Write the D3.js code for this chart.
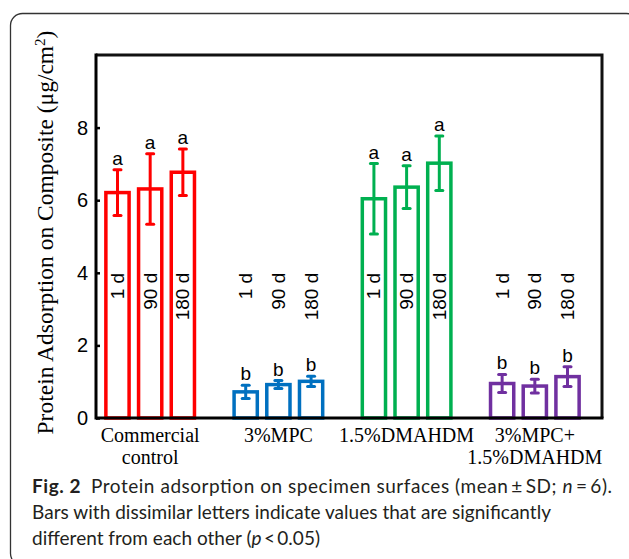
<!DOCTYPE html>
<html lang="en">
<head>
<meta charset="UTF-8">
<title>Protein adsorption</title>
<script src="https://cdnjs.cloudflare.com/ajax/libs/d3/7.8.5/d3.min.js"></script>
<style>
  body { margin: 0; background: #fff; }
</style>
</head>
<body>
<svg id="chart" width="629" height="559"></svg>
<script>
// groups and ageing times
const groups = ["Commercial control", "3%MPC", "1.5%DMAHDM", "3%MPC+ 1.5%DMAHDM"];
const groupLines = [["Commercial", "control"], ["3%MPC"], ["1.5%DMAHDM"], ["3%MPC+", "1.5%DMAHDM"]];
const days = ["1 d", "90 d", "180 d"];
const colors = ["#ff0000", "#0070c0", "#00b050", "#7030a0"];

// mean and SD per group, one value per ageing time
const means = [
  [6.21, 6.31, 6.77],
  [0.72, 0.92, 1.01],
  [6.04, 6.36, 7.02],
  [0.95, 0.88, 1.14]
];
const sds = [
  [0.63, 0.97, 0.64],
  [0.18, 0.11, 0.14],
  [0.97, 0.59, 0.75],
  [0.25, 0.19, 0.27]
];
const letters = [
  ["a", "a", "a"],
  ["b", "b", "b"],
  ["a", "a", "a"],
  ["b", "b", "b"]
];
const yTicks = [0, 2, 4, 6, 8];

const svg = d3.select("#chart");

// outer rounded frame
svg.append("rect")
  .attr("x", 10.5).attr("y", 13.5)
  .attr("width", 628).attr("height", 552)
  .attr("rx", 12)
  .attr("fill", "none")
  .attr("stroke", "#333")
  .attr("stroke-width", 1.3);

const pLeft = 96, pRight = 602, pTop = 55, pBottom = 418;

const y = d3.scaleLinear().domain([0, 10]).range([pBottom, pTop]);
const x0 = d3.scaleBand().domain(groups).range([86, 599])
  .paddingInner(0.309).paddingOuter(0.155);
const x1 = d3.scaleBand().domain(days).range([0, x0.bandwidth()])
  .paddingInner(0.29).paddingOuter(0);

const sans = "'Liberation Sans', Arial, sans-serif";
const serif = "'Liberation Serif', 'Times New Roman', serif";

// bars
groups.forEach((g, gi) => {
  const gEl = svg.append("g").attr("transform", `translate(${x0(g)},0)`);
  days.forEach((d, di) => {
    const m = means[gi][di], s = sds[gi][di];
    const cx = x1(d) + x1.bandwidth() / 2;
    gEl.append("rect")
      .attr("x", x1(d))
      .attr("y", y(m))
      .attr("width", x1.bandwidth())
      .attr("height", y(0) - y(m))
      .attr("fill", "none")
      .attr("stroke", colors[gi])
      .attr("stroke-width", 3.5);
    // error bar
    gEl.append("line")
      .attr("x1", cx).attr("x2", cx)
      .attr("y1", y(m + s)).attr("y2", y(m - s))
      .attr("stroke", colors[gi]).attr("stroke-width", 3);
    [m + s, m - s].forEach(v => {
      gEl.append("line")
        .attr("x1", cx - 3.5).attr("x2", cx + 3.5)
        .attr("y1", y(v)).attr("y2", y(v))
        .attr("stroke", colors[gi]).attr("stroke-width", 3)
        .attr("stroke-linecap", "round");
    });
    // significance letter
    gEl.append("text")
      .attr("x", cx).attr("y", y(m + s) - 5)
      .attr("text-anchor", "middle")
      .attr("font-family", sans).attr("font-size", 19)
      .text(letters[gi][di]);
    // day label, reading bottom to top, tops aligned
    gEl.append("text")
      .attr("transform", `translate(${cx},${y(4)}) rotate(-90)`)
      .attr("text-anchor", "end")
      .attr("dominant-baseline", "central")
      .attr("font-family", sans).attr("font-size", 19)
      .text(d);
  });
});

// plot box
svg.append("path")
  .attr("d", `M${pLeft},${pTop}H${pRight}V${pBottom}`)
  .attr("fill", "none").attr("stroke", "#111").attr("stroke-width", 3);

// axes
const yAxis = svg.append("g").attr("transform", `translate(${pLeft},0)`)
  .call(d3.axisRight(y).tickValues(yTicks).tickSize(4).tickFormat(d3.format("d")));
yAxis.select(".domain").remove();
yAxis.selectAll(".tick line").attr("stroke", "#000").attr("stroke-width", 2.5);
yAxis.selectAll(".tick text")
  .attr("x", -8).attr("text-anchor", "end")
  .attr("font-family", sans).attr("font-size", 20).attr("fill", "#000");

svg.append("line").attr("x1", pLeft).attr("x2", pLeft).attr("y1", pTop - 1.5).attr("y2", pBottom + 1.5)
  .attr("stroke", "#000").attr("stroke-width", 3);
svg.append("line").attr("x1", pLeft).attr("x2", pRight + 1.5).attr("y1", pBottom).attr("y2", pBottom)
  .attr("stroke", "#000").attr("stroke-width", 3);

// category labels
groups.forEach((g, gi) => {
  const t = svg.append("text")
    .attr("x", x0(g) + x0.bandwidth() / 2)
    .attr("y", 442)
    .attr("text-anchor", "middle")
    .attr("font-family", serif).attr("font-size", 20);
  groupLines[gi].forEach((ln, li) => {
    t.append("tspan")
      .attr("x", x0(g) + x0.bandwidth() / 2)
      .attr("dy", li === 0 ? 0 : 22)
      .text(ln);
  });
});

// y title
const yt = svg.append("text")
  .attr("transform", `translate(53,${(pTop + pBottom) / 2 - 4}) rotate(-90)`)
  .attr("text-anchor", "middle")
  .attr("font-family", serif).attr("font-size", 23.5);
yt.append("tspan").text("Protein Adsorption on Composite (μg/cm");
yt.append("tspan").attr("dy", -8).attr("font-size", 15).text("2");
yt.append("tspan").attr("dy", 8).text(")");

// caption
const cap = svg.append("g").attr("font-family", "Lato, 'Noto Sans', sans-serif").attr("font-size", 19).attr("fill", "#231f20");
const l1 = cap.append("text").attr("x", 32).attr("y", 493)
  .attr("textLength", 580).attr("lengthAdjust", "spacing");
l1.append("tspan").attr("font-weight", "bold").text("Fig. 2");
l1.append("tspan").text("\u2002Protein adsorption on specimen surfaces (mean\u2009±\u2009SD; ");
l1.append("tspan").attr("font-style", "italic").text("n");
l1.append("tspan").text("\u2009=\u20096).");
cap.append("text").attr("x", 32).attr("y", 519)
  .attr("textLength", 519).attr("lengthAdjust", "spacing")
  .text("Bars with dissimilar letters indicate values that are significantly");
const l3 = cap.append("text").attr("x", 32).attr("y", 545)
  .attr("textLength", 288).attr("lengthAdjust", "spacing");
l3.append("tspan").text("different from each other (");
l3.append("tspan").attr("font-style", "italic").text("p");
l3.append("tspan").text("\u2009<\u20090.05)");
</script>
</body>
</html>
